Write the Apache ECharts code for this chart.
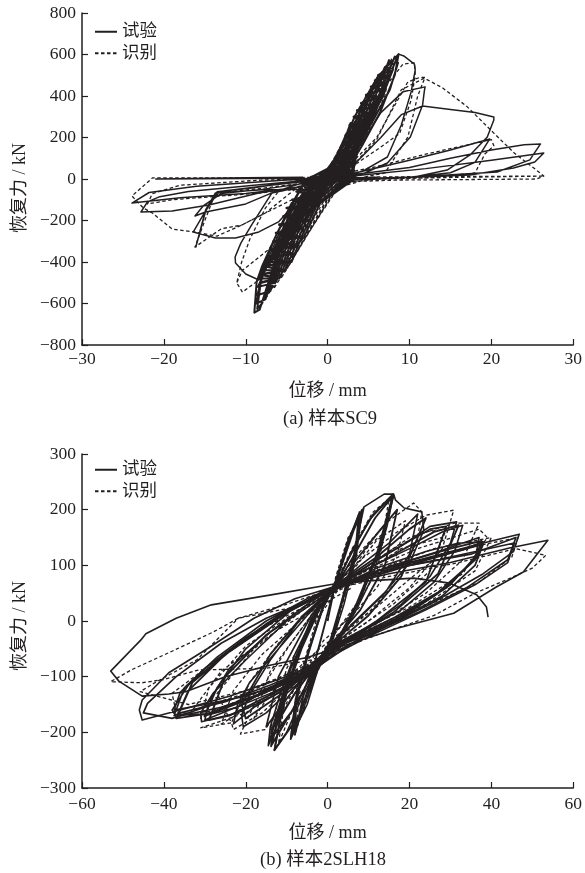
<!DOCTYPE html>
<html><head><meta charset="utf-8">
<style>html,body{margin:0;padding:0;background:#fff}#c{width:585px;height:873px}</style>
<script src="https://cdn.jsdelivr.net/npm/echarts@6/dist/echarts.min.js"></script>
</head><body><div id="c"></div>
<script>
const seriesNames = ['试验', '识别'];
const xTicksA = [-30,-20,-10,0,10,20,30];
const yTicksA = [-800,-600,-400,-200,0,200,400,600,800];
const xTicksB = [-60,-40,-20,0,20,40,60];
const yTicksB = [-300,-200,-100,0,100,200,300];

const aTestFill = [[-8.2,-500],[-6.2,-480],[-8.1,-460],[-5.4,-440],[-7.6,-420],[-5,-400],[-7.4,-380],[-4.2,-360],[-7,-340],[-3.7,-320],[-6.6,-300],[-3.2,-280],[-6.3,-260],[-3,-240],[-5.9,-220],[-2.4,-200],[-5.4,-180],[-1.9,-160],[-5,-140],[-1.3,-120],[-4.3,-100],[-0.8,-80],[-3.8,-60],[-0.4,-40],[-3.2,-20],[3,-5],[-2,10],[3.1,20],[-1,25],[3.2,40],[0.1,50],[3.3,70],[0.6,80],[3.4,110],[1.3,120],[3.6,140],[1.9,170],[4,190],[2.2,210],[4.4,230],[2.7,260],[5,270],[3.2,300],[5.5,310],[3.6,330],[5.9,350],[4.1,365],[6.3,395],[4.7,405],[6.7,430],[5.3,445],[7.1,460],[5.8,475],[7.4,490],[6.2,500],[7.6,520],[6.9,535]];
const aTestBand = [[0,0],[1.7,150],[2.7,90],[2.5,10],[-1,-116],[-2.4,-170],[-3.4,-116],[-1.6,-5],[0.5,50],[2.3,220],[3.4,150],[3,50],[2.8,-5],[-1.3,-116],[-3.3,-230],[-4.9,-230],[-3.6,-116],[-1.2,-5],[0.8,50],[2.8,270],[4.2,260],[3.6,140],[3.2,50],[3.1,-5],[-0.9,-116],[-2.9,-280],[-4,-330],[-6,-330],[-4.3,-116],[-2.7,-5],[0.2,50],[1.7,140],[3.3,300],[4,350],[5.2,300],[3.4,140],[3.1,50],[2.4,-5],[-1.2,-116],[-3.2,-280],[-4.4,-400],[-7.2,-400],[-5.9,-280],[-3.9,-116],[-1.8,-5],[0.6,50],[2,140],[3.7,300],[4.7,400],[6.1,390],[5,300],[3.1,140],[2.6,50],[1.8,-5],[-1.6,-116],[-3.5,-280],[-5.2,-440],[-7.9,-440],[-5.6,-280],[-3.5,-116],[-1,-5],[1,50],[2.2,140],[4,300],[5.5,450],[7,450],[6.3,400],[4.7,300],[2.9,140],[2.3,50],[1.2,-5],[-1.8,-116],[-3.9,-280],[-5.9,-480],[-8.4,-480],[-6.4,-280],[-4.4,-116],[-0.4,-5],[1.3,50],[2.4,140],[4.2,300],[6.2,500],[7.6,500],[6.8,400],[5.4,300],[3.5,140],[2.1,50],[0.6,-5],[-2.1,-116],[-4.2,-280],[-6.4,-500],[-8.5,-520],[-7.2,-400],[-5.3,-280],[-3.1,-116],[-0.1,-5],[1.6,50],[2.6,140],[4.5,300],[7,540],[8,530],[7.2,450],[5.1,300],[3.3,140],[1.9,50],[0.1,-5],[-2.4,-116],[-4.6,-280],[-7,-540],[-8.6,-560],[-7.6,-420],[-5,-280],[-2.9,-116],[0.4,-5],[1.8,50],[2.9,140],[4.9,300],[7.5,573],[8.1,550],[7.4,470],[5.8,320],[3.1,120],[1.6,50],[-0.4,-5],[-2.7,-116],[-4.9,-280],[-7.6,-580],[-8.7,-600],[-7.8,-430],[-4.7,-280],[-2.6,-116],[0.8,-5],[2,50],[3,140],[5.2,300],[8.2,590],[8.6,560],[7.6,430],[5.5,280],[3,100],[1.2,40],[-0.9,-5],[-3,-116],[-5.2,-280],[-8,-600],[-8.6,-625],[-8,-450],[-4.4,-280],[-2.3,-116],[1.3,-5],[2.3,50],[3.2,140],[5.4,300],[8.67,602],[8.2,500],[6.4,320],[4.2,160],[2.8,70],[0.9,-10],[-1.4,-30],[-3.3,-116],[-5.5,-280],[-8.3,-630],[-8.95,-644],[-8.67,-496],[-8,-420],[-6.4,-280],[-4.2,-116],[-2.7,-5],[0,50],[1.5,130],[3.3,300],[6.1,492],[8.67,602]];
const aTestOuter = [[8.67,602],[9.3,593],[10.6,554],[10.7,525],[10.2,420],[9,260],[7.3,106],[4.5,43],[1,-10],[-3,-100],[-6,-270],[-8.4,-487],[-10,-458],[-11.25,-405],[-11.3,-376],[-10.6,-309],[-9.3,-222],[-6.8,-67],[-4,-30],[-0.5,10],[3,100],[6.5,320],[9.2,420],[11.9,444],[11.8,420],[11.6,357],[10.1,202],[7.3,77],[4,20],[1,-15],[-3,-50],[-8,-52],[-13.7,-67],[-14.9,-149],[-16.1,-328],[-14.9,-155],[-13.5,-62],[-9,-42],[-2,0],[3,60],[6.5,200],[9,310],[11.6,352],[15,335],[18,320],[20.3,299],[20.3,284],[19.5,202],[17.4,116],[14.6,43],[10.6,10],[4,0],[-1,-20],[-3.6,-101],[-6,-207],[-8.4,-255],[-11.25,-284],[-13.7,-284],[-16.4,-255],[-15,-160],[-14,-100],[-13.2,-60],[-7,-30],[0,0],[4,35],[10,90],[15,140],[19.8,193],[18,80],[15,30],[10,8],[0,-10],[-6.8,-67],[-10,-120],[-14.9,-159],[-16.2,-178],[-15.2,-130],[-13,-70],[-8,-50],[0,-5],[3,20],[10,55],[15,100],[20,140],[24,165],[26,169],[26.1,160],[24.7,92],[20.7,34],[10.6,10],[2,0],[-3.6,-38],[-8.4,-67],[-14.5,-125],[-19,-154],[-22.8,-159],[-22,-110],[-20.5,-85],[-17,-60],[-9,-30],[-2,-5],[4,18],[12,50],[20,90],[26.4,125],[25.3,82],[22.7,53],[17.4,19],[10.6,8],[1,-10],[-3.5,-40],[-10,-70],[-18,-90],[-23.9,-116],[-21.8,-65],[-16,-35],[-5,-5],[-1,0],[3,5],[6,8],[0,2],[-10,3],[-21,0],[-10,6],[-3,8]];

const aModelBand = [[0,0],[2.6,170],[1.4,50],[-0.6,-80],[-2.2,-190],[-1,-60],[0.6,60],[3.4,260],[2.5,120],[0.4,-30],[-2.6,-240],[-1.2,-90],[0.6,50],[4.1,330],[3.4,180],[0.8,-20],[-3.3,-300],[-1.7,-120],[0.8,80],[4.9,400],[4.2,240],[1.2,-10],[-4.1,-370],[-2.3,-170],[1,100],[5.6,450],[4.9,290],[1.6,10],[-4.9,-430],[-2.9,-210],[1.2,120],[6.4,500],[5.6,340],[2,20],[-5.7,-480],[-3.6,-260],[1.4,140],[7.2,550],[6.4,380],[2.4,40],[-6.6,-530],[-4.4,-310],[1.6,160],[7.8,580],[7,400],[2.8,50],[-7.5,-570],[-5.2,-350],[-2,-110],[2,190],[9.2,554],[10.6,560],[10.7,500],[10.2,380],[8.8,220],[6.5,154],[3,60],[-1,-20],[-6,-290],[-8.4,-487],[-10.4,-545],[-11.1,-501],[-10.5,-400],[-9.5,-290],[-7.6,-140],[-6,-60],[-2,-20],[2,40],[6,200],[9.8,468],[11.3,490],[11.9,490],[11,400],[9.8,202],[7,29],[2,-10],[-3,-90],[-7.2,-340],[-10.4,-440],[-11.1,-501]];
const aModelOuter = [[2,20],[6,190],[9,430],[11.8,486],[14,440],[17,350],[20.3,221],[22.8,125],[25.5,43],[26.4,14],[25.5,0],[16,-3],[8.5,-5],[1,-15],[-4,-50],[-7.6,-164],[-10.5,-222],[-13.5,-275],[-16.4,-255],[-19,-241],[-21.4,-164],[-22.5,-140],[-23.9,-82],[-21.4,5],[-14,5],[-5,5],[0,10],[6,60],[12,120],[20,190],[20.3,160],[19.2,120],[18,29],[12,5],[5,0],[-4.4,-101],[-7.6,-164],[-10.5,-222],[-13,-240],[-16.2,-328],[-15,-200],[-13.7,-67],[-8,-45],[-1,-10],[6,10],[16,12],[26.4,14],[16,8],[6,0],[-4,-50],[-9,-70],[-14,-85],[-19,-100],[-22,-120],[-21.4,-70],[-18,-30],[-8,-5],[-1,0]];

const bTest1 = [[0,0],[2,70],[4.5,130],[7.8,196],[7,120],[4,30],[1,-40],[-2.5,-90],[-5,-150],[-9,-210],[-8,-150],[-5,-60],[-1,30],[2,70],[5,140],[8.9,205],[6.4,120],[3,20],[0.5,-50],[-3,-95],[-6,-160],[-8,-200],[-7.5,-120],[-4,-40],[-1,25],[2,68],[6.4,163],[8.9,205],[13.8,228],[16.1,228],[14.5,170],[11,80],[7,20],[2,-45],[-3,-90],[-7,-150],[-10,-200],[-13,-232],[-12,-190],[-9,-100],[-5,-20],[-1,35],[2,65],[5,110],[10,180],[16.1,228],[16.6,217],[18.7,203],[23,196],[23.5,163],[20,104],[13.8,50],[6,-5],[1,-45],[-3,-80],[-8,-130],[-12,-180],[-14.5,-224],[-14,-190],[-11.5,-130],[-8,-60],[-3,15],[2,62],[8,100],[15,140],[22,192],[20,120],[14,50],[7,0],[1,-42],[-3,-85],[-10,-130],[-15,-165],[-20.6,-190],[-21,-170],[-19,-130],[-14,-70],[-7,0],[0,50],[2,63],[10,100],[18,135],[25,170],[31.5,178],[30,140],[25,80],[18,30],[10,-10],[1,-45],[-3,-82],[-10,-120],[-18,-155],[-23,-185],[-22,-150],[-19,-110],[-12,-50],[-5,10],[2,62],[10,95],[20,130],[28,160],[33,172],[31,125],[26,70],[18,20],[8,-20],[1,-48],[-3,-85],[-12,-130],[-22,-165],[-30.8,-181],[-31,-165],[-28,-130],[-20,-70],[-10,0],[2,60],[12,95],[24,125],[32,140],[37.6,142],[36,115],[30,65],[20,15],[8,-25],[0,-50],[-3,-90],[-14,-130],[-24,-160],[-30,-178],[-29,-145],[-24,-85],[-14,-20],[-4,30],[2,60],[14,95],[27,125],[37,150],[36,110],[28,55],[17,5],[5,-35],[-3,-88],[-14,-125],[-26,-155],[-37,-172],[-38,-160],[-34,-115],[-26,-65],[-15,-5],[-4,40],[2,64],[12,90],[25,115],[38,140],[46.8,156],[45.3,124],[38,85],[25,30],[10,-25],[1,-48],[-3,-82],[-14,-115],[-25,-145],[-36,-165],[-37.5,-170],[-35,-120],[-27,-65],[-15,0],[-5,40],[1.7,62],[15,92],[30,115],[45.6,140],[44,105],[36,65],[24,20],[10,-28],[-3,-78],[-12,-105],[-24,-135],[-36,-160],[-45.3,-178],[-46,-160],[-45.3,-142],[-38.8,-93],[-29,-48],[-18,5],[-8,40],[1.7,62],[15,85],[30,105],[44.4,131],[53.8,145],[47.8,88],[41.2,61],[30.8,14],[17,-13],[0.7,-52],[-4.8,-65],[-13.8,-79],[-25,-100],[-34.7,-127],[-38.8,-131],[-45.3,-135],[-51,-108],[-53,-90],[-45.6,-34],[-44.4,-23],[-37,5],[-28.4,29],[-13.8,47],[1.2,66],[10,72],[21,77],[29.8,68],[36.4,47],[38.8,25],[39.2,7]];
const bTest2 = [[-3,-80],[-10,-110],[-20,-135],[-30,-150],[-37.5,-160],[-36,-128],[-30,-85],[-20,-30],[-10,15],[2,60],[20,100],[35,120],[46,150],[44,110],[34,60],[22,15],[8,-30],[-3,-85],[-16,-125],[-28,-150],[-38,-175],[-45,-165],[-44,-148],[-37,-100],[-26,-40],[-15,5],[2,58],[16,92],[30,122],[38,138],[36,100],[28,45],[14,-10],[-2,-70],[-14,-120],[-22,-155],[-30,-170],[-27,-120],[-20,-50],[-8,25],[2,60],[12,110],[25,165],[29,170],[24,70],[12,0],[0,-55],[-8,-120],[-15,-190],[-12,-100],[-4,10],[2,60]];
const bTestCore = [[-8,-205],[-5.5,-120],[-3,-70],[-1,-15],[1,42],[2,70],[5,145],[8,195],[7.2,135],[4.2,55],[1,-32],[-3,-82],[-6,-150],[-9,-212],[-7.8,-140],[-5,-65],[-1.4,20],[1.8,68],[4.6,135],[7.6,190],[6.8,125],[3.6,40],[0.4,-42],[-3,-88],[-6.4,-160],[-8.6,-205],[-7.2,-130],[-4.4,-50],[-1,30],[2.2,75],[5.4,150],[8.4,200],[7,120],[3.2,25],[0,-50],[-3.2,-95],[-7,-170],[-13,-232],[-10.4,-135],[-6.4,-50],[-2,22],[2,65],[6.2,130],[11,190],[16,228],[12,120],[7,30],[2,-40],[-3,-80],[-7.5,-150],[-14.2,-215],[-11,-140],[-7,-55],[-2.4,18],[2,62],[6.6,120],[11.6,185],[16.1,226],[13,135],[8,40],[3,-30],[-2,-72],[-7,-140],[-13.6,-222],[-13.8,-200],[-9,-85],[-3,15],[1.8,60],[7,110],[13,165],[17,200],[14,100],[8,20],[1,-40],[-3,-80],[-8,-130],[-13.5,-195],[-13.8,-225],[-10,-120],[-4,5],[2,64],[12,115],[20,165],[24,185],[18,80],[10,10],[1,-46],[-3,-80],[-10,-125],[-20,-175],[-21,-150],[-14,-60],[-6,10],[2,64],[14,110],[26,160],[32,172],[27,85],[16,15],[4,-38],[-3,-84],[-12,-125],[-24,-170],[-29,-178],[-25,-100],[-15,-25],[-4,35],[2,62],[16,100],[30,130],[37.6,144],[37,120],[29,60],[16,5],[3,-42],[-3,-85],[-15,-128],[-28,-165],[-37,-175],[-34,-125],[-25,-60],[-12,10],[2,62],[18,100],[33,128],[38,142],[36,110],[26,45],[14,-8],[2,-48],[-3,-82],[-16,-130],[-30,-168],[-36.5,-168],[-33,-110],[-24,-55],[-10,15],[2,62]];
const bModel = [[0,0],[2,80],[5,150],[8,185],[6,90],[2,-10],[-3,-100],[-7,-180],[-8,-205],[-6,-80],[-2,20],[2,70],[6,130],[11,195],[15,220],[13,130],[8,40],[1,-30],[-4,-100],[-8,-150],[-12,-220],[-10,-120],[-5,-20],[1,60],[8,125],[15,180],[21,212],[23,196],[22,150],[18,80],[10,15],[2,-35],[-5,-90],[-11,-150],[-15.3,-195],[-21.3,-203],[-16,-120],[-9,-40],[-1,40],[8,110],[17,160],[24,190],[30.8,199],[28,130],[20,60],[10,0],[0,-50],[-8,-110],[-16,-165],[-23,-195],[-23.5,-183],[-19,-110],[-12,-40],[-3,30],[8,90],[20,150],[31,176],[37,176],[33,110],[24,50],[12,-5],[0,-55],[-10,-115],[-20,-165],[-31,-192],[-23.5,-183],[-27,-130],[-18,-50],[-6,20],[8,85],[22,130],[37,165],[39,150],[33,85],[20,25],[6,-25],[-5,-85],[-18,-135],[-30,-165],[-37,-165],[-38,-130],[-28,-75],[-15,-10],[-2,40],[12,85],[30,125],[46.5,150],[45,115],[37,70],[25,30],[8,-25],[-6,-85],[-20,-125],[-34,-150],[-45.8,-127],[-42,-110],[-32,-70],[-21.8,5],[-10,30],[0,55],[15,80],[32,105],[46,130],[53.3,118],[50,95],[44,75],[36,50],[26,10],[12,-25],[-4,-70],[-15,-85],[-31.5,-88],[-40,-105],[-45.3,-111],[-53,-109],[-48,-88],[-38.8,-57],[-28,-20],[-21.8,5],[-8,25],[2,55]];
const bModel2 = [[2,55],[9,95],[16,130],[24,160],[29,165],[26,110],[20,75],[12,25],[5,-10],[-2,-50],[-8,-90],[-14,-130],[-18,-175],[-14,-90],[-8,-30],[-2,30],[6,90],[12,145],[19,180],[17,120],[12,60],[6,10],[-1,-35],[-6,-95],[-11,-160],[-14,-195],[-10,-85],[-4,-10],[4,70],[10,135],[14,160],[12,90],[7,25],[1,-30],[-6,-110],[-18,-150],[-26,-185],[-23,-125],[-16,-60],[-6,5],[6,75],[18,130],[28,150],[25,90],[16,30],[4,-30],[-8,-100],[-24,-150],[-31,-175],[-29,-120],[-20,-45],[-8,15],[8,80],[26,130],[40,150],[36,90],[24,30],[10,-15],[-4,-75],[-20,-130],[-33,-160],[-26,-90],[-12,-15],[6,60]];

const chart = echarts.init(document.getElementById('c'), null, {renderer:'canvas'});
const serif = '"Liberation Serif","Noto Sans CJK SC",serif';
const ink = '#231f20';
const fmt = v => String(v).replace('-', '\u2212');
function axis(idx, t, name, gap, margin, pad) {
  return {gridIndex:idx, type:'value', min:t[0], max:t[t.length-1], interval:t[1]-t[0], splitLine:{show:false},
    axisLine:{onZero:false, lineStyle:{color:ink,width:1.5}}, axisTick:{inside:true,length:6,lineStyle:{color:ink,width:1.2}},
    axisLabel:{color:ink,fontFamily:serif,fontSize:17.5,margin:margin,formatter:fmt,showMinLabel:true,showMaxLabel:true,hideOverlap:false},
    name:name,nameLocation:'middle',nameGap:gap,nameTextStyle:{color:ink,fontFamily:serif,fontSize:18,padding:pad}};
}
function line(name, data, idx, width, dashed, z) {
  return {type:'line', name:name, data:data, xAxisIndex:idx, yAxisIndex:idx, showSymbol:false, symbol:'none', smooth:false, clip:true, silent:true, z:z,
    lineStyle:{color:ink,width:width,type:dashed?[3.5,2.5]:'solid',join:'round'}, animation:false};
}
function legend(top) {
  return {show:true, orient:'vertical', left:94, top:top, padding:0, itemWidth:22, itemHeight:14, itemGap:4, selectedMode:false,
    data:seriesNames, itemStyle:{color:'transparent',borderColor:'transparent',borderWidth:0,opacity:0},
    textStyle:{color:ink,fontFamily:serif,fontSize:17.5}};
}
chart.setOption({
  animation:false, backgroundColor:'#fff',
  title:[
    {text:'(a) 样本SC9', left:330, top:410, textAlign:'center', padding:0, textStyle:{color:ink,fontFamily:serif,fontSize:18.5,fontWeight:'normal'}},
    {text:'(b) 样本2SLH18', left:323, top:851, textAlign:'center', padding:0, textStyle:{color:ink,fontFamily:serif,fontSize:18.5,fontWeight:'normal'}}
  ],
  legend:[legend(23),legend(461)],
  grid:[{left:82,top:13,width:495,height:332},{left:82,top:454,width:495,height:334}],
  xAxis:[axis(0,xTicksA,'位移 / mm',37,6,0),axis(1,xTicksB,'位移 / mm',36,8,0)],
  yAxis:[axis(0,yTicksA,'恢复力 / kN',52,6,[0,18,0,0]),axis(1,yTicksB,'恢复力 / kN',52,6,[0,10,0,0])],
  series:[
    line(seriesNames[0],aTestOuter,0,1.5,false,3),
    line(seriesNames[0],aTestBand,0,2,false,3),
    line(seriesNames[0],aTestFill,0,2.6,false,3),
    line(seriesNames[1],aModelBand,0,1.3,true,2),
    line(seriesNames[1],aModelOuter,0,1.3,true,2),
    line(seriesNames[0],bTest1,1,1.6,false,3),
    line(seriesNames[0],bTest2,1,1.7,false,3),
    line(seriesNames[0],bTestCore,1,1.9,false,3),
    line(seriesNames[1],bModel,1,1.3,true,2),
    line(seriesNames[1],bModel2,1,1.3,true,2)
  ]
});
</script></body></html>
